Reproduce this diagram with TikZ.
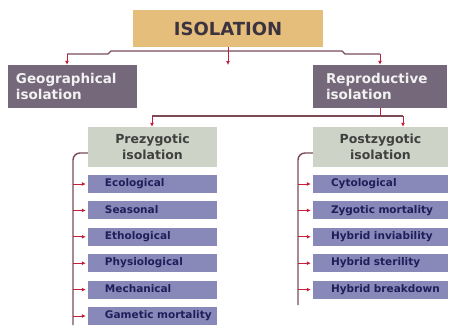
\documentclass[tikz,border=0pt]{standalone}
\usepackage{fontspec}
\setmainfont{DejaVu Sans}
\usetikzlibrary{arrows.meta, positioning}

\definecolor{isofill}{HTML}{E5BE7C}
\definecolor{isotext}{HTML}{3B3340}
\definecolor{mainfill}{HTML}{75687B}
\definecolor{subfill}{HTML}{CDD3C6}
\definecolor{subtext}{HTML}{404040}
\definecolor{itemfill}{HTML}{8989B9}
\definecolor{itemtext}{HTML}{1E1E5A}
\definecolor{linkcol}{HTML}{7A4B57}
\definecolor{arrcol}{HTML}{C41E3A}

\begin{document}
\begin{tikzpicture}[x=1pt, y=-1pt, node distance=8pt, font=\bfseries]
    \tikzstyle{top}=[fill=isofill, text=isotext, minimum width=190pt, minimum height=37pt, font=\bfseries\fontsize{18}{20}\selectfont]
    \tikzstyle{main}=[fill=mainfill, text=white!95!black, align=left, minimum height=43pt, font=\bfseries\fontsize{13.5}{16}\selectfont]
    \tikzstyle{sub}=[fill=subfill, text=subtext, align=center, minimum height=40pt, font=\bfseries\fontsize{12.5}{16}\selectfont]
    \tikzstyle{item}=[fill=itemfill, text=itemtext, align=left, minimum height=18pt, inner xsep=0pt, text height=8pt, text depth=2.5pt, font=\bfseries\fontsize{10.5}{12}\selectfont]
    \tikzstyle{link}=[draw=linkcol, line width=1.4pt]
    \tikzstyle{arr}=[draw=arrcol, line width=1pt, -{Latex[length=4pt, width=4pt]}]

    \useasboundingbox (0,0) rectangle (451,325);

    \node[top] (iso) at (228,28.5) {ISOLATION};
    \node[main, inner xsep=8pt, text width=113pt] (geo) at (72.5,86.5) {Geographical\\isolation};
    \node[main, inner xsep=13pt, text width=108pt] (rep) at (380,86.5) {Reproductive\\isolation};
    \node[sub, minimum width=129pt] (pre) at (152.5,147) {Prezygotic\\isolation};
    \node[sub, minimum width=135pt] (post) at (380.5,147) {Postzygotic\\isolation};

    % prezygotic barriers
    \node[item, text width=129pt, execute at begin node={\hspace*{17pt}}] (eco) at (152.5,184) {Ecological};
    \node[item, text width=129pt, execute at begin node={\hspace*{17pt}}, below=of eco] (sea) {Seasonal};
    \node[item, text width=129pt, execute at begin node={\hspace*{17pt}}, below=of sea] (etho) {Ethological};
    \node[item, text width=129pt, execute at begin node={\hspace*{17pt}}, below=of etho] (phys) {Physiological};
    \node[item, text width=129pt, execute at begin node={\hspace*{17pt}}, below=of phys] (mech) {Mechanical};
    \node[item, text width=129pt, execute at begin node={\hspace*{17pt}}, below=of mech] (gam) {Gametic mortality};

    % postzygotic barriers
    \node[item, text width=135pt, execute at begin node={\hspace*{18pt}}] (cyto) at (380.5,184) {Cytological};
    \node[item, text width=135pt, execute at begin node={\hspace*{18pt}}, below=of cyto] (zyg) {Zygotic mortality};
    \node[item, text width=135pt, execute at begin node={\hspace*{18pt}}, below=of zyg] (inv) {Hybrid inviability};
    \node[item, text width=135pt, execute at begin node={\hspace*{18pt}}, below=of inv] (ster) {Hybrid sterility};
    \node[item, text width=135pt, execute at begin node={\hspace*{18pt}}, below=of ster] (brk) {Hybrid breakdown};

    % first level
    \coordinate (busL) at (67,54);
    \coordinate (busR) at (380,54);
    \coordinate (mid) at (228,65);
    \draw[link] (busL) -- (108,54) -- (111,51) -- (342,51) -- (345,54) -- (busR);
    \draw[arr] (busL) -- (busL |- geo.north);
    \draw[arr] (busR) -- (busR |- rep.north);
    \draw[arr] (iso.south) -- (mid);

    % second level
    \coordinate (busP) at (152,116);
    \coordinate (busQ) at (403,116);
    \draw[link] (busP) -- (busQ);
    \draw[draw=arrcol, line width=1pt] (rep.south) -- (rep.south |- busP);
    \draw[arr] (busP) -- (busP |- pre.north);
    \draw[arr] (busQ) -- (busQ |- post.north);

    % brackets
    \coordinate (preEnd) at (73,325);
    \coordinate (postEnd) at (298,305);
    \draw[link, rounded corners=7pt] ([yshift=-6pt]pre.west) -| (preEnd);
    \draw[link, rounded corners=7pt] ([yshift=-6pt]post.west) -| (postEnd);
    \draw[arr, shorten >=2pt] (eco.west -| preEnd) -- (eco.west);
    \draw[arr, shorten >=2pt] (sea.west -| preEnd) -- (sea.west);
    \draw[arr, shorten >=2pt] (etho.west -| preEnd) -- (etho.west);
    \draw[arr, shorten >=2pt] (phys.west -| preEnd) -- (phys.west);
    \draw[arr, shorten >=2pt] (mech.west -| preEnd) -- (mech.west);
    \draw[arr, shorten >=2pt] (gam.west -| preEnd) -- (gam.west);
    \draw[arr, shorten >=2pt] (cyto.west -| postEnd) -- (cyto.west);
    \draw[arr, shorten >=2pt] (zyg.west -| postEnd) -- (zyg.west);
    \draw[arr, shorten >=2pt] (inv.west -| postEnd) -- (inv.west);
    \draw[arr, shorten >=2pt] (ster.west -| postEnd) -- (ster.west);
    \draw[arr, shorten >=2pt] (brk.west -| postEnd) -- (brk.west);
\end{tikzpicture}
\end{document}
